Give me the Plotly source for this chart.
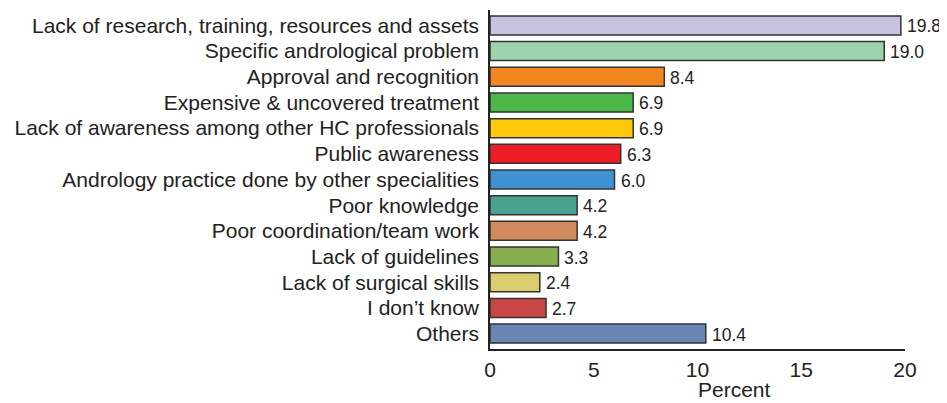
import plotly.graph_objects as go

categories = [
    "Lack of research, training, resources and assets",
    "Specific andrological problem",
    "Approval and recognition",
    "Expensive & uncovered treatment",
    "Lack of awareness among other HC professionals",
    "Public awareness",
    "Andrology practice done by other specialities",
    "Poor knowledge",
    "Poor coordination/team work",
    "Lack of guidelines",
    "Lack of surgical skills",
    "I don\u2019t know",
    "Others",
]
values = [19.8, 19.0, 8.4, 6.9, 6.9, 6.3, 6.0, 4.2, 4.2, 3.3, 2.4, 2.7, 10.4]
colors = ["#c5c3e0", "#9dd4ad", "#f28722", "#4db748", "#ffc90a", "#ee1c25",
          "#3f92d2", "#4aa18c", "#cf8b5d", "#86ad4e", "#d9cd6e", "#c94647", "#6a86b2"]
x_ticks = [0, 5, 10, 15, 20]

font_family = "Liberation Sans, Arial, sans-serif"

fig = go.Figure(go.Bar(
    x=values, y=categories, orientation="h",
    marker=dict(color=colors, line=dict(color="#333333", width=1.5)),
    width=0.74,
    hoverinfo="x+y",
))

for v, c in zip(values, categories):
    fig.add_annotation(x=v, y=c, text=f"{v:.1f}", showarrow=False,
                       xanchor="left", yanchor="middle", xshift=4, yshift=-1,
                       font=dict(size=17.5, color="#222222", family=font_family))

fig.update_layout(
    width=939, height=395,
    margin=dict(l=482, r=42, t=2, b=54),
    paper_bgcolor="white", plot_bgcolor="white",
    showlegend=False,
    font=dict(family=font_family, size=21, color="#222222"),
    xaxis=dict(range=[0, 20], tickvals=x_ticks, showgrid=False, zeroline=False,
               showline=True, linecolor="#222222", linewidth=1.5, ticks="",
               tickfont=dict(size=21), ticklabelstandoff=1),
    yaxis=dict(autorange=False, range=[12.6, -0.6], showgrid=False, zeroline=False,
               showline=True, linecolor="#222222", linewidth=1.5, ticks="",
               tickfont=dict(size=21), ticklabelstandoff=5, automargin=False),
)
fig.add_annotation(text="Percent", xref="paper", yref="paper", x=(734 - 490) / 415, y=-0.12,
                   yanchor="middle", showarrow=False, font=dict(size=21, color="#222222"))

fig.write_html("out.html")
